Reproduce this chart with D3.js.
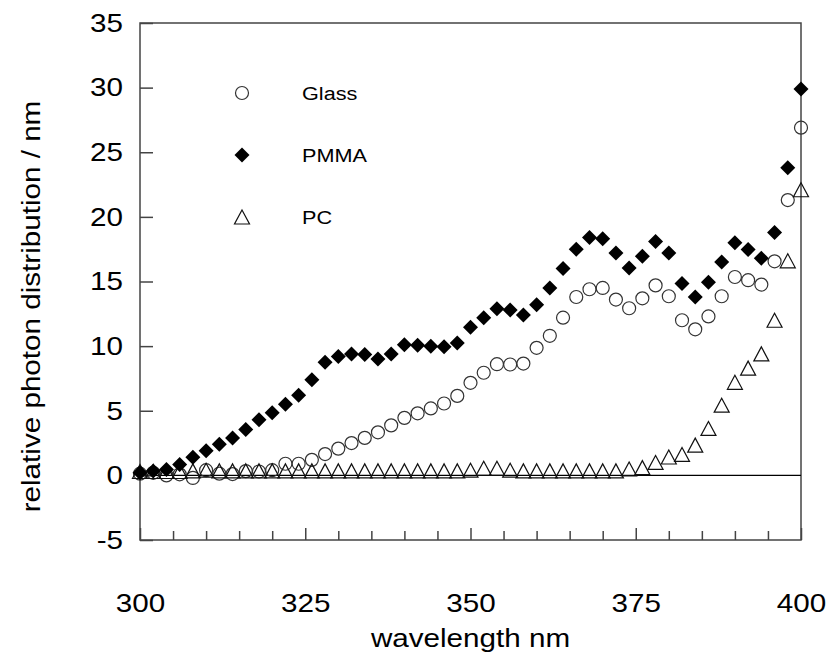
<!DOCTYPE html>
<html>
<head>
<meta charset="utf-8">
<script src="https://cdn.jsdelivr.net/npm/d3@7"></script>
<style>
  body { margin: 0; background: #fff; }
  svg { display: block; font-family: "Liberation Sans", Arial, sans-serif; }
</style>
</head>
<body>
<svg id="chart" width="828" height="653"></svg>
<script>
// ---- data ----
const wavelengths = [300,302,304,306,308,310,312,314,316,318,320,322,324,326,328,330,332,334,336,338,
  340,342,344,346,348,350,352,354,356,358,360,362,364,366,368,370,372,374,376,378,
  380,382,384,386,388,390,392,394,396,398,400];
const glass = [0.13,0.2,0.0,0.08,-0.2,0.4,0.13,0.1,0.33,0.3,0.4,0.9,0.9,1.2,1.65,2.07,2.5,2.9,3.33,3.87,
  4.45,4.8,5.18,5.56,6.15,7.16,7.94,8.6,8.58,8.65,9.87,10.8,12.2,13.8,14.4,14.5,13.6,12.93,13.7,14.7,
  13.86,12.0,11.3,12.3,13.86,15.35,15.1,14.76,16.56,21.3,26.9];
const pmma = [0.2,0.33,0.46,0.85,1.4,1.9,2.4,2.9,3.55,4.3,4.85,5.5,6.2,7.4,8.76,9.2,9.4,9.35,9.0,9.4,
  10.1,10.07,10.0,9.95,10.25,11.46,12.2,12.9,12.8,12.4,13.2,14.5,16.0,17.5,18.4,18.3,17.2,16.05,16.95,18.1,
  17.2,14.84,13.8,14.94,16.5,18.0,17.47,16.8,18.8,23.8,29.9];
const pc = [0.3,0.3,0.3,0.3,0.35,0.4,0.35,0.35,0.35,0.35,0.35,0.35,0.35,0.35,0.35,0.35,0.35,0.35,0.35,0.35,
  0.35,0.35,0.35,0.35,0.35,0.4,0.55,0.55,0.4,0.35,0.35,0.35,0.35,0.35,0.35,0.35,0.35,0.5,0.6,1.0,
  1.42,1.62,2.34,3.63,5.43,7.2,8.3,9.4,12.0,16.6,22.1];
const seriesNames = ["Glass", "PMMA", "PC"];
const xMajorTicks = [300, 325, 350, 375, 400];
const xMinorTicks = [305,310,315,320,330,335,340,345,355,360,365,370,380,385,390,395];
const yTicks = [-5, 0, 5, 10, 15, 20, 25, 30, 35];

// ---- layout ----
const W = 828, H = 653;
const m = { left: 140, right: 27, top: 23, bottom: 113 };
const SX = 1.14; // horizontal text stretch of the original
const svg = d3.select("#chart");
const x = d3.scaleLinear().domain([300, 400]).range([m.left, W - m.right]);
const y = d3.scaleLinear().domain([-5, 35]).range([H - m.bottom, m.top]);
const axisColor = "#444";
const fontFam = "'Liberation Sans', Arial, sans-serif";

// frame
svg.append("rect")
  .attr("x", x(300)).attr("y", y(35))
  .attr("width", x(400) - x(300)).attr("height", y(-5) - y(35))
  .attr("fill", "none").attr("stroke", axisColor).attr("stroke-width", 1.5);

// zero line
svg.append("line")
  .attr("x1", x(300)).attr("x2", x(400)).attr("y1", y(0)).attr("y2", y(0))
  .attr("stroke", "#000").attr("stroke-width", 1.2);

// y axis
const yAxis = svg.append("g").attr("transform", `translate(${x(300)},0)`)
  .call(d3.axisLeft(y).tickValues(yTicks).tickSize(-13).tickPadding(17).tickFormat(d => String(d)));
yAxis.select(".domain").remove();
yAxis.selectAll("line").attr("stroke", axisColor).attr("stroke-width", 1.5);
yAxis.selectAll("text").attr("font-size", 26).attr("fill", "#000")
  .style("font-family", fontFam)
  .attr("x", -17 / SX)
  .attr("transform", `scale(${SX},1)`);

// x axis minor
const xMinor = svg.append("g").attr("transform", `translate(0,${y(-5)})`)
  .call(d3.axisBottom(x).tickValues(xMinorTicks).tickSize(-9).tickFormat(""));
xMinor.select(".domain").remove();
xMinor.selectAll("line").attr("stroke", axisColor).attr("stroke-width", 1.5);

// x axis major
const xMajor = svg.append("g").attr("transform", `translate(0,${y(-5)})`)
  .call(d3.axisBottom(x).tickValues(xMajorTicks).tickSize(-12).tickPadding(54).tickFormat(d => String(d)));
xMajor.select(".domain").remove();
xMajor.selectAll("line").attr("stroke", axisColor).attr("stroke-width", 1.5);
xMajor.selectAll("text").attr("font-size", 26).attr("fill", "#000")
  .style("font-family", fontFam)
  .attr("transform", `scale(${SX},1)`);

// axis titles
svg.append("text")
  .attr("transform", `translate(${(x(300) + x(400)) / 2},647) scale(${SX},1)`)
  .attr("text-anchor", "middle").attr("font-size", 26)
  .text("wavelength nm");
svg.append("text")
  .attr("transform", `translate(40,${(y(-5) + y(35)) / 2 + 25}) rotate(-90) scale(${SX},1)`)
  .attr("text-anchor", "middle").attr("font-size", 26)
  .text("relative photon distribution / nm");

// ---- markers ----
const circleSym = d3.symbol().type(d3.symbolCircle).size(Math.PI * 6.5 * 6.5);
function diamondPath(s) { return `M0,${-s}L${s},0L0,${s}L${-s},0Z`; }
function trianglePath(w, h) { return `M0,${-h/2}L${w/2},${h/2}L${-w/2},${h/2}Z`; }

const gGlass = svg.append("g");
gGlass.selectAll("path").data(wavelengths.map((w, i) => [w, glass[i]])).join("path")
  .attr("d", circleSym)
  .attr("transform", d => `translate(${x(d[0])},${y(d[1])})`)
  .attr("fill", "none").attr("stroke", "#333").attr("stroke-width", 1.2);

const gPC = svg.append("g");
gPC.selectAll("path").data(wavelengths.map((w, i) => [w, pc[i]])).join("path")
  .attr("d", trianglePath(15, 14))
  .attr("transform", d => `translate(${x(d[0])},${y(d[1])})`)
  .attr("fill", "none").attr("stroke", "#111").attr("stroke-width", 1.2);

const gPMMA = svg.append("g");
gPMMA.selectAll("path").data(wavelengths.map((w, i) => [w, pmma[i]])).join("path")
  .attr("d", diamondPath(7.5))
  .attr("transform", d => `translate(${x(d[0])},${y(d[1])})`)
  .attr("fill", "#000");

// ---- legend ----
const legendY = [93, 155, 217];
const lg = svg.append("g");
lg.append("path").attr("d", circleSym).attr("transform", `translate(242,${legendY[0]})`)
  .attr("fill", "none").attr("stroke", "#333").attr("stroke-width", 1.2);
lg.append("path").attr("d", diamondPath(7.5)).attr("transform", `translate(242,${legendY[1]})`)
  .attr("fill", "#000");
lg.append("path").attr("d", trianglePath(15, 14)).attr("transform", `translate(242,${legendY[2]})`)
  .attr("fill", "none").attr("stroke", "#111").attr("stroke-width", 1.2);
lg.selectAll("text").data(seriesNames).join("text")
  .attr("transform", (d, i) => `translate(302,${legendY[i] + 7}) scale(${SX},1)`)
  .attr("font-size", 19).text(d => d);
</script>
</body>
</html>
